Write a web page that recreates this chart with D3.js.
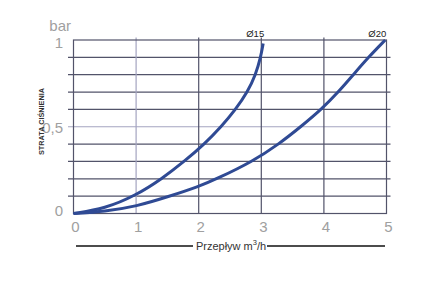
<!DOCTYPE html>
<html>
<head>
<meta charset="utf-8">
<script src="https://cdn.jsdelivr.net/npm/d3@7"></script>
<style>
  body { margin: 0; background: #fff; }
  svg { display: block; font-family: "Liberation Sans", Arial, sans-serif; }
</style>
</head>
<body>
<svg id="drawing_region"></svg>
<script>
// flow [m3/h] and pressure loss [bar]
const flow15 = [0, 0.5, 1.0, 1.41, 1.77, 2.09, 2.36, 2.59, 2.78, 2.91, 2.99, 3.03];
const loss15 = [0, 0.028, 0.105, 0.2, 0.3, 0.4, 0.5, 0.6, 0.7, 0.8, 0.9, 0.98];
const flow20 = [0, 0.5, 1, 1.54, 2, 2.29, 2.86, 3.28, 3.63, 3.96, 4.23, 4.47, 4.71, 4.98];
const loss20 = [0, 0.012, 0.04, 0.1, 0.155, 0.2, 0.3, 0.4, 0.5, 0.6, 0.7, 0.8, 0.9, 1.0];
const seriesNames = ["Ø15", "Ø20"];
const xTicks = [0, 1, 2, 3, 4, 5];
const yTicks = [0, 0.5, 1];
const yTickLabels = ["0", "0,5", "1"];
const gridSteps = [0.1, 0.2, 0.3, 0.4, 0.5, 0.6, 0.7, 0.8, 0.9];

const config = {
    width: 430,
    height: 287,
    margin: {top: 40, right: 43.5, bottom: 73.5, left: 73.5}
};

const svg = d3.select('#drawing_region')
    .attr('width', config.width)
    .attr('height', config.height);

const inner_width = config.width - config.margin.left - config.margin.right;
const inner_height = config.height - config.margin.top - config.margin.bottom;

const chart = svg.append('g')
    .attr('transform', `translate(${config.margin.left}, ${config.margin.top})`);

const xscale = d3.scaleLinear().domain([0, 5]).range([0, inner_width]);
const yscale = d3.scaleLinear().domain([0, 1]).range([inner_height, 0]);

const dark = '#52536a';
const light = '#a4a4c0';

// horizontal grid lines (they stick out a little on both sides)
chart.selectAll('.hgrid')
    .data(gridSteps)
    .enter()
    .append('line')
    .attr('x1', -5.5)
    .attr('x2', inner_width + 4)
    .attr('y1', d => yscale(d))
    .attr('y2', d => yscale(d))
    .attr('stroke', d => Math.abs(d - 0.5) < 1e-6 ? light : dark)
    .attr('stroke-width', 1.2);

// vertical grid lines
chart.selectAll('.vgrid')
    .data(xTicks.slice(1, -1))
    .enter()
    .append('line')
    .attr('x1', d => xscale(d))
    .attr('x2', d => xscale(d))
    .attr('y1', -2.5)
    .attr('y2', inner_height)
    .attr('stroke', d => d === 1 ? light : dark)
    .attr('stroke-width', 1.2);

// frame
chart.append('rect')
    .attr('x', 0).attr('y', 0)
    .attr('width', inner_width).attr('height', inner_height)
    .attr('fill', 'none')
    .attr('stroke', dark)
    .attr('stroke-width', 1.2);

// x tick labels
const xaxis = d3.axisBottom(xscale)
    .tickValues(xTicks)
    .tickSize(0)
    .tickFormat(d3.format('d'));
const xaxis_group = chart.append('g')
    .attr('transform', `translate(0, ${inner_height})`)
    .call(xaxis);
xaxis_group.select('.domain').remove();
xaxis_group.selectAll('text')
    .attr('fill', '#a0a0a0')
    .attr('font-size', '15px')
    .attr('dx', 1.5)
    .attr('dy', 0)
    .attr('y', 18);

// y tick labels
const yaxis = d3.axisLeft(yscale)
    .tickValues(yTicks)
    .tickSize(0)
    .tickFormat((d, i) => yTickLabels[i]);
const yaxis_group = chart.append('g').call(yaxis);
yaxis_group.select('.domain').remove();
yaxis_group.selectAll('text')
    .attr('fill', '#a0a0a0')
    .attr('font-size', '15px')
    .attr('x', -10.5)
    .attr('dy', d => d === 0 ? '0.15em' : (d === 1 ? '0.49em' : '0.36em'));

chart.append('text')
    .attr('x', -2.5)
    .attr('y', -9)
    .attr('text-anchor', 'end')
    .attr('fill', '#a0a0a0')
    .attr('font-size', '15px')
    .text('bar');

// y title
svg.append('text')
    .attr('transform', 'translate(43.5, 121.5) rotate(-90)')
    .attr('text-anchor', 'middle')
    .attr('fill', '#333')
    .attr('font-size', '7.4px')
    .attr('font-weight', 'bold')
    .attr('textLength', 67)
    .attr('lengthAdjust', 'spacingAndGlyphs')
    .text('STRATA CIŚNIENIA');

// x title with lines on both sides
const xt = svg.append('text')
    .attr('x', 231)
    .attr('y', 249.5)
    .attr('text-anchor', 'middle')
    .attr('fill', '#333')
    .attr('font-size', '11px');
xt.append('tspan').text('Przepływ  m');
xt.append('tspan').attr('font-size', '7.5px').attr('dy', -4.5).text('3');
xt.append('tspan').attr('dy', 4.5).text('/h');

svg.append('line')
    .attr('x1', 76).attr('x2', 193)
    .attr('y1', 246).attr('y2', 246)
    .attr('stroke', '#111').attr('stroke-width', 1.3);
svg.append('line')
    .attr('x1', 267).attr('x2', 385)
    .attr('y1', 246).attr('y2', 246)
    .attr('stroke', '#111').attr('stroke-width', 1.3);

// curves
const series = [
    {name: seriesNames[0], x: flow15, y: loss15},
    {name: seriesNames[1], x: flow20, y: loss20}
];
const line = d3.line()
    .x(d => xscale(d[0]))
    .y(d => yscale(d[1]))
    .curve(d3.curveBasis);

chart.selectAll('.curve')
    .data(series)
    .enter()
    .append('path')
    .attr('d', s => line(s.x.map((v, i) => [v, s.y[i]])))
    .attr('fill', 'none')
    .attr('stroke', '#2f4a94')
    .attr('stroke-width', 3)
    .attr('stroke-linecap', 'butt');

chart.selectAll('.curve-label')
    .data(series)
    .enter()
    .append('text')
    .attr('x', s => xscale(s.x[s.x.length - 1]) + 1)
    .attr('y', -3)
    .attr('text-anchor', 'end')
    .attr('fill', '#222')
    .attr('font-size', '9.5px')
    .text(s => s.name);
</script>
</body>
</html>
